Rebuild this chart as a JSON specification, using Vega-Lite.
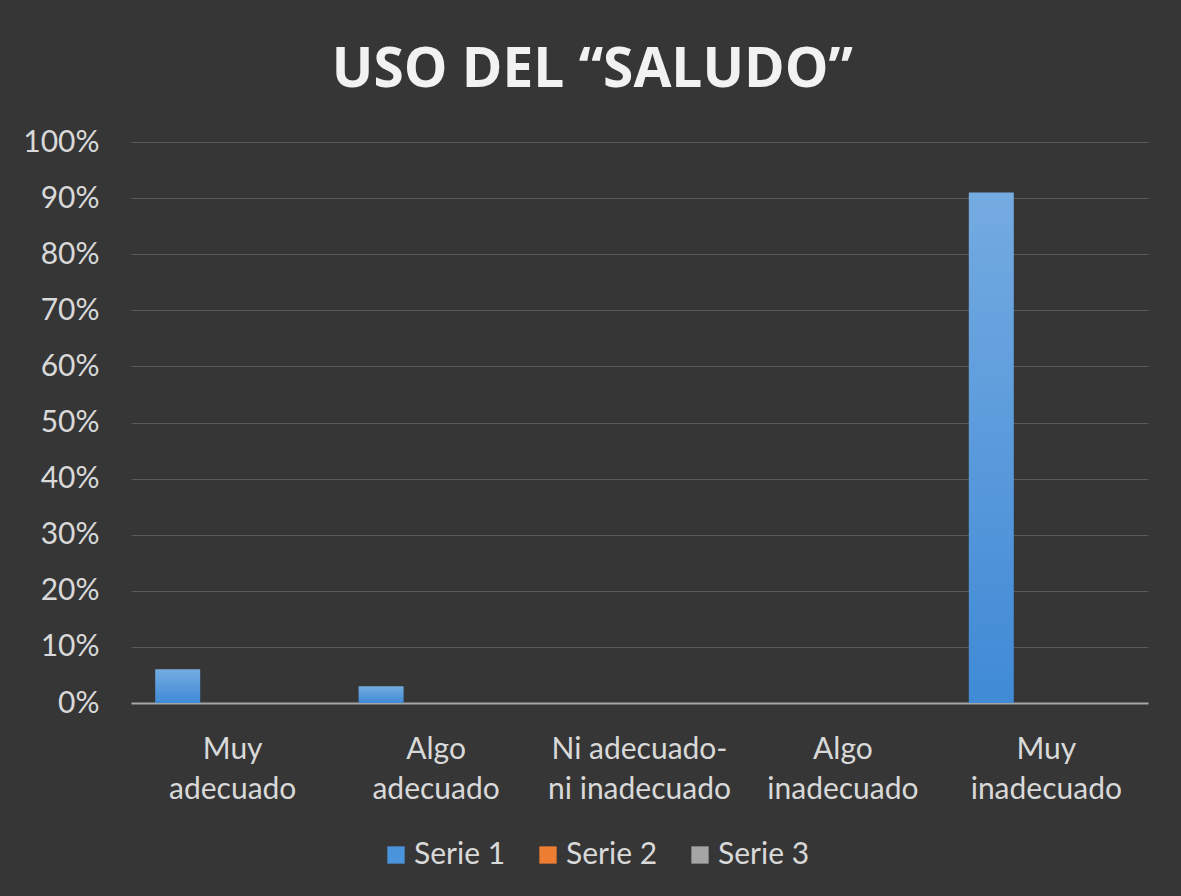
{
  "$schema": "https://vega.github.io/schema/vega-lite/v6.json",
  "width": 1017,
  "height": 561,
  "autosize": {"type": "none"},
  "padding": {"left": 131, "top": 142, "right": 33, "bottom": 193},
  "background": "#363636",
  "title": {
    "text": "USO DEL “SALUDO”",
    "font": "Open Sans",
    "fontWeight": "bold",
    "fontSize": 55,
    "color": "#f2f2f2",
    "anchor": "middle",
    "frame": "bounds",
    "offset": 28,
    "dx": 7
  },
  "data": {
    "values": [
      {"categoria": "Muy adecuado", "serie": "Serie 1", "valor": 0.06},
      {"categoria": "Muy adecuado", "serie": "Serie 2", "valor": 0},
      {"categoria": "Muy adecuado", "serie": "Serie 3", "valor": 0},
      {"categoria": "Algo adecuado", "serie": "Serie 1", "valor": 0.03},
      {"categoria": "Algo adecuado", "serie": "Serie 2", "valor": 0},
      {"categoria": "Algo adecuado", "serie": "Serie 3", "valor": 0},
      {"categoria": "Ni adecuado-ni inadecuado", "serie": "Serie 1", "valor": 0},
      {"categoria": "Ni adecuado-ni inadecuado", "serie": "Serie 2", "valor": 0},
      {"categoria": "Ni adecuado-ni inadecuado", "serie": "Serie 3", "valor": 0},
      {"categoria": "Algo inadecuado", "serie": "Serie 1", "valor": 0},
      {"categoria": "Algo inadecuado", "serie": "Serie 2", "valor": 0},
      {"categoria": "Algo inadecuado", "serie": "Serie 3", "valor": 0},
      {"categoria": "Muy inadecuado", "serie": "Serie 1", "valor": 0.91},
      {"categoria": "Muy inadecuado", "serie": "Serie 2", "valor": 0},
      {"categoria": "Muy inadecuado", "serie": "Serie 3", "valor": 0}
    ]
  },
  "mark": {"type": "bar"},
  "encoding": {
    "x": {
      "field": "categoria",
      "type": "nominal",
      "sort": ["Muy adecuado", "Algo adecuado", "Ni adecuado-ni inadecuado", "Algo inadecuado", "Muy inadecuado"],
      "scale": {"paddingInner": 0.238, "paddingOuter": 0.119},
      "axis": {
        "title": null,
        "labelAngle": 0,
        "labelFont": "Lato",
        "labelFontSize": 30,
        "labelColor": "#d9d9d9",
        "labelPadding": 31,
        "labelLineHeight": 40,
        "labelLimit": 400,
        "labelExpr": "indexof(datum.label, '-') >= 0 ? [slice(datum.label, 0, indexof(datum.label, '-') + 1), slice(datum.label, indexof(datum.label, '-') + 1)] : split(datum.label, ' ')",
        "ticks": false,
        "domain": true,
        "domainColor": "#a6a6a6",
        "domainWidth": 2,
        "grid": false
      }
    },
    "xOffset": {
      "field": "serie",
      "type": "nominal",
      "scale": {"paddingInner": 0.182, "paddingOuter": 0}
    },
    "y": {
      "field": "valor",
      "type": "quantitative",
      "scale": {"domain": [0, 1], "nice": false},
      "axis": {
        "title": null,
        "format": ".0%",
        "values": [0, 0.1, 0.2, 0.3, 0.4, 0.5, 0.6, 0.7, 0.8, 0.9, 1],
        "labelFont": "Lato",
        "labelFontSize": 30,
        "labelColor": "#d9d9d9",
        "labelPadding": 32,
        "ticks": false,
        "domain": false,
        "grid": true,
        "gridColor": "#595959",
        "gridWidth": 1
      }
    },
    "fill": {
      "condition": {
        "test": "datum.serie === 'Serie 1'",
        "value": {
          "gradient": "linear",
          "x1": 0, "y1": 0, "x2": 0, "y2": 1,
          "stops": [
            {"offset": 0, "color": "#74abe1"},
            {"offset": 1, "color": "#408ad6"}
          ]
        }
      },
      "field": "serie",
      "type": "nominal",
      "scale": {"domain": ["Serie 1", "Serie 2", "Serie 3"], "range": ["#4a94dc", "#ed7d31", "#a5a5a5"]},
      "legend": {
        "orient": "none",
        "legendX": 250,
        "legendY": 698,
        "direction": "horizontal",
        "title": null,
        "symbolType": "square",
        "symbolSize": 300,
        "symbolStrokeWidth": 0,
        "labelFont": "Lato",
        "labelFontSize": 30,
        "labelColor": "#d9d9d9",
        "labelOffset": 3,
        "columnPadding": 27
      }
    }
  },
  "config": {
    "view": {"stroke": null}
  }
}
